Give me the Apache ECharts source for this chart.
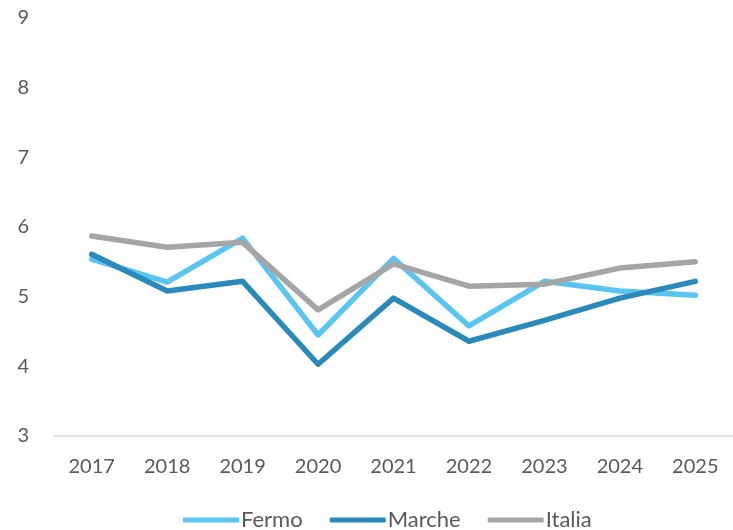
<!DOCTYPE html>
<html>
<head>
<meta charset="utf-8">
<script src="https://cdn.jsdelivr.net/npm/echarts@6/dist/echarts.min.js"></script>
<style>
html, body { margin: 0; padding: 0; background: #fff; }
#container { width: 733px; height: 530px; }
</style>
</head>
<body>
<div id="container"></div>
<script>
var years = ['2017', '2018', '2019', '2020', '2021', '2022', '2023', '2024', '2025'];
var fermo = [5.54, 5.21, 5.84, 4.45, 5.55, 4.58, 5.22, 5.08, 5.02];
var marche = [5.61, 5.08, 5.22, 4.03, 4.98, 4.36, 4.66, 4.98, 5.22];
var italia = [5.87, 5.71, 5.78, 4.81, 5.47, 5.15, 5.18, 5.41, 5.50];

var dom = document.getElementById("container");
var myChart = echarts.init(dom);
var fontFam = "'Source Sans Pro', Lato, 'Noto Sans', sans-serif";

function line(name, color, data) {
    return {
        name: name,
        type: 'line',
        symbol: 'none',
        data: data,
        lineStyle: { width: 5.5, color: color, cap: 'round', join: 'round' },
        itemStyle: { color: color }
    };
}

var option = {
    animation: false,
    textStyle: { fontFamily: fontFam },
    grid: {
        left: 54,
        right: -11,
        top: 18,
        bottom: 94
    },
    legend: {
        data: ['Fermo', 'Marche', 'Italia'],
        top: 504,
        left: 178,
        itemWidth: 56,
        itemHeight: 5,
        itemGap: 27,
        icon: 'roundRect',
        textStyle: { fontSize: 22, color: '#595959', fontFamily: fontFam, padding: [0, 0, 0, -3] }
    },
    xAxis: {
        type: 'category',
        data: years,
        boundaryGap: true,
        axisLine: { lineStyle: { color: '#D9D9D9', width: 1.5 } },
        axisTick: { show: false },
        axisLabel: { fontSize: 20, color: '#595959', margin: 21, fontFamily: fontFam }
    },
    yAxis: {
        type: 'value',
        min: 3,
        max: 9,
        interval: 1,
        splitLine: { show: false },
        axisLine: { show: false },
        axisTick: { show: false },
        axisLabel: { fontSize: 20, color: '#595959', margin: 25, fontFamily: fontFam }
    },
    series: [
        line('Fermo', '#5BC5F2', fermo),
        line('Marche', '#2A8BBA', marche),
        line('Italia', '#A5A5A5', italia)
    ]
};
myChart.setOption(option, true);
</script>
</body>
</html>
